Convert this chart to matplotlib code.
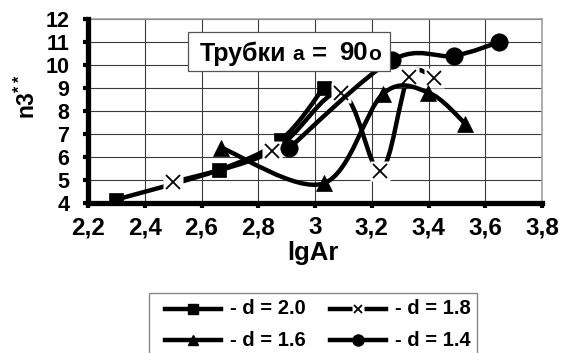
import numpy as np
import matplotlib
matplotlib.use("Agg")
import matplotlib.pyplot as plt
from matplotlib.path import Path
from matplotlib.patches import PathPatch, Rectangle
from matplotlib.lines import Line2D
from matplotlib.ticker import FuncFormatter, MultipleLocator

plt.rcParams['font.family'] = ['Liberation Sans', 'DejaVu Sans']
plt.rcParams['font.weight'] = 'bold'
plt.rcParams['mathtext.fontset'] = 'custom'
plt.rcParams['mathtext.rm'] = 'Liberation Sans:bold'
plt.rcParams['mathtext.bf'] = 'Liberation Sans:bold'
plt.rcParams['mathtext.it'] = 'Liberation Sans:bold'

# ---- data ----
x_d20 = [2.30, 2.66, 2.88, 3.03]
y_d20 = [4.15, 5.43, 6.75, 9.00]

x_d18 = [2.50, 2.85, 3.09, 3.23, 3.33, 3.42]
y_d18 = [4.90, 6.25, 8.80, 5.40, 9.50, 9.45]

x_d16 = [2.67, 3.03, 3.24, 3.40, 3.53]
y_d16 = [6.40, 4.85, 8.75, 8.80, 7.45]

x_d14 = [2.91, 3.27, 3.49, 3.65]
y_d14 = [6.40, 10.20, 10.40, 11.00]

labels = ['- d = 2.0', '- d = 1.8', '- d = 1.6', '- d = 1.4']
title_parts = ['Трубки', 'a', '=', '90', 'o']
xlabel = 'lgAr'

W, H = 569, 353
fig = plt.figure(figsize=(W / 100, H / 100), dpi=100)
L, R, T, B = 88, 542, 19, 203
ax = fig.add_axes([L / W, 1 - B / H, (R - L) / W, (B - T) / H])
ax.set_xlim(2.2, 3.8)
ax.set_ylim(4, 12)
ax.xaxis.set_major_locator(MultipleLocator(0.2))
ax.yaxis.set_major_locator(MultipleLocator(1))
ax.xaxis.set_major_formatter(FuncFormatter(lambda v, p: f"{v:.1f}".rstrip('0').rstrip('.').replace('.', ',')))
ax.yaxis.set_major_formatter(FuncFormatter(lambda v, p: f"{int(round(v))}"))
ax.grid(True, color='#3a3a3a', linewidth=0.8, zorder=0)
ax.set_axisbelow(True)
for s in ['left', 'bottom']:
    ax.spines[s].set_linewidth(3.8)
    ax.spines[s].set_color('black')
    ax.spines[s].set_zorder(20)
for s in ['top', 'right']:
    ax.spines[s].set_linewidth(1.2)
    ax.spines[s].set_color('#a0a0a0')
ax.tick_params(axis='both', direction='out', length=3.5, width=3, color='black')
ax.tick_params(axis='x', labelsize=17.5, pad=6)
ax.tick_params(axis='y', labelsize=15.5, pad=10)
for lab in ax.get_xticklabels() + ax.get_yticklabels():
    lab.set_fontweight('bold')


def smooth_path(xs, ys):
    pts = np.column_stack([xs, ys]).astype(float)
    n = len(pts)
    verts = [pts[0]]
    codes = [Path.MOVETO]
    for i in range(n - 1):
        p0 = pts[i - 1] if i > 0 else pts[i]
        p1 = pts[i]
        p2 = pts[i + 1]
        p3 = pts[i + 2] if i + 2 < n else pts[i + 1]
        c1 = p1 + (p2 - p0) / 6.0
        c2 = p2 - (p3 - p1) / 6.0
        verts += [c1, c2, p2]
        codes += [Path.CURVE4] * 3
    return Path(verts, codes)


LW = 3.2
series = [
    (x_d20, y_d20, dict(marker='s', ms=10.5)),
    (x_d18, y_d18, dict(marker='x', ms=10.5)),
    (x_d16, y_d16, dict(marker='^', ms=12)),
    (x_d14, y_d14, dict(marker='o', ms=12.5)),
]
z = 3
for xs, ys, st in series:
    ax.add_patch(PathPatch(smooth_path(xs, ys), fill=False, lw=LW, ec='black',
                           capstyle='butt', joinstyle='round', zorder=z))
    if st['marker'] == 'x':
        ax.plot(xs, ys, ls='none', marker='s', ms=14, mfc='white', mec='none', zorder=z + 0.5)
        ax.plot(xs, ys, ls='none', marker='x', ms=st['ms'], mec='black', mew=1.3, zorder=z + 0.6)
    else:
        ax.plot(xs, ys, ls='none', marker=st['marker'], ms=st['ms'], mfc='black',
                mec='black', mew=0.5, zorder=z + 0.6)
    z += 1

# title box
fig.add_artist(Rectangle((188 / W, 1 - 71 / H), (390 - 188) / W, (71 - 32) / H,
                         transform=fig.transFigure, facecolor='white',
                         edgecolor='#555555', lw=0.9, zorder=30))
base = 1 - 60.5 / H
for txt, xp, fs in zip(title_parts, [200, 292, 312, 339, 368], [18, 15, 18.5, 18.5, 15]):
    fig.text(xp / W, base, txt, fontsize=fs, fontweight='bold', va='baseline', zorder=31)

# axis labels
fig.text(313 / W, 1 - 260 / H, xlabel, fontsize=18.5, fontweight='bold', ha='center', va='baseline')
fig.text(27 / W, 1 - 97 / H, r'$\mathbf{n3}^{\mathbf{**}}$', fontsize=16.5, rotation=90,
         ha='center', va='center')

# legend (drawn as figure artists)
fig.add_artist(Rectangle((149 / W, -0.1), (477 - 149) / W, 1 - 293 / H + 0.1,
                         transform=fig.transFigure, facecolor='white',
                         edgecolor='#888888', lw=1.0, zorder=1))
leg_items = [
    (labels[0], 's', 7.0, 165, 309),
    (labels[1], 'x', 6.0, 330, 309),
    (labels[2], '^', 7.5, 165, 340),
    (labels[3], 'o', 8.0, 330, 340),
]
for lab, mk, ms, x0, yrow in leg_items:
    yy = 1 - yrow / H
    xl = [x0 / W, (x0 + 56) / W]
    xm = [(x0 + 28) / W]
    fig.add_artist(Line2D(xl, [yy, yy], color='black', lw=LW, transform=fig.transFigure, zorder=2))
    if mk == 'x':
        fig.add_artist(Line2D(xm, [yy], ls='none', marker='s', ms=8, mfc='white', mec='none',
                              transform=fig.transFigure, zorder=3))
        fig.add_artist(Line2D(xm, [yy], ls='none', marker='x', ms=ms, mec='black', mew=1.3,
                              transform=fig.transFigure, zorder=4))
    else:
        fig.add_artist(Line2D(xm, [yy], ls='none', marker=mk, ms=ms, mfc='black', mec='black',
                              transform=fig.transFigure, zorder=4))
    fig.text((x0 + 65) / W, yy, lab, fontsize=14.5, fontweight='bold', va='center', ha='left', zorder=5)

fig.savefig('out.png', dpi=100)
